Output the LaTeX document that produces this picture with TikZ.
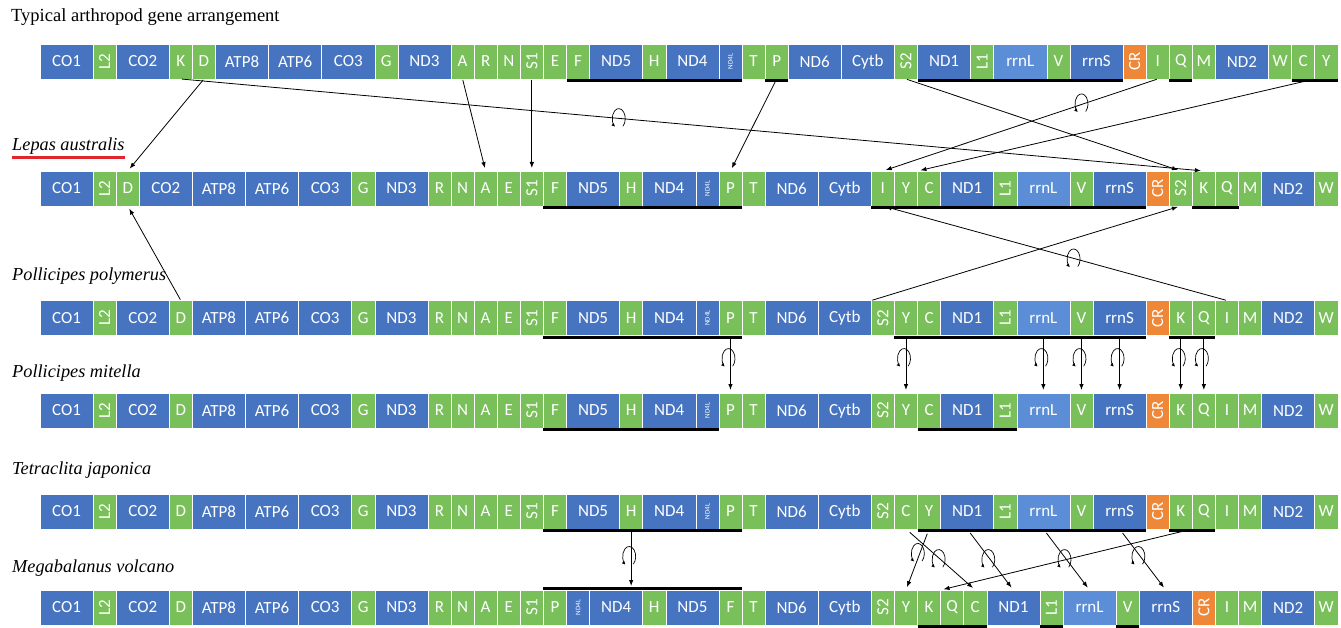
\documentclass[tikz,border=0pt]{standalone}
\usepackage{fontspec}
\setmainfont{Liberation Serif}
\newfontfamily\genefont{Carlito}
\usetikzlibrary{arrows.meta,positioning}
\definecolor{geneblue}{HTML}{4674C1}
\definecolor{generrn}{HTML}{5B8ED6}
\definecolor{genegreen}{HTML}{79C05A}
\definecolor{genecr}{HTML}{EE8838}
\definecolor{lepasred}{HTML}{E3262B}
\tikzset{
    gene/.style={draw=white, line width=0.6pt, inner sep=0pt, outer sep=0pt, minimum height=35pt, text=white, font=\genefont\fontsize{17}{17}\selectfont},
    geneb/.style={gene, fill=geneblue, minimum width=53.1pt},
    genel/.style={gene, fill=generrn, minimum width=53.1pt},
    genes/.style={gene, fill=genegreen, minimum width=23.1pt},
    gener/.style={genes},
    genec/.style={gene, fill=genecr, minimum width=23.1pt},
    genen/.style={gene, fill=geneblue, minimum width=23.1pt, font=\genefont\fontsize{7}{7}\selectfont},
    rowlab/.style={anchor=west, inner sep=0pt, font=\fontsize{18.3}{18.3}\selectfont\itshape},
    strand/.style={draw=black, line width=3pt},
    mv/.style={->, line width=0.8pt, shorten >=3pt, shorten <=1pt},
    invloop/.pic={\draw[-{Latex[length=3.5pt,width=3.5pt]}, line width=0.7pt] (2.2pt,-7.7pt) arc[start angle=-50, end angle=235, x radius=6.5pt, y radius=10pt];}
}
\newcommand{\genelab}[2]{\if r#1\rotatebox{90}{#2}\else\if c#1\rotatebox{90}{#2}\else\if n#1\rotatebox{90}{#2}\else#2\fi\fi\fi}
\newcommand{\generow}[3]{%
    \coordinate (#1-start) at (40,#2);
    \foreach \t/\k [remember=\t as \last (initially start)] in {#3} {%
        \edef\genenode{\noexpand\node[gene\k, right=0pt of #1-\last] (#1-\t) {\noexpand\genelab{\k}{\t}};}%
        \genenode
    }%
}
\newcommand{\strandbar}[3]{\draw[strand] ([yshift=-1.5pt]#1-#2.south west) -- ([yshift=-1.5pt]#1-#3.south east);}

\begin{document}
\begin{tikzpicture}[x=1pt, y=-1pt, >={Latex[length=6pt,width=4.5pt]}]
    \useasboundingbox (0,0) rectangle (1341,628);

    \node[rowlab, font=\fontsize{18.5}{18.5}\selectfont] (lab1) at (11,17) {Typical arthropod gene arrangement};
    \node[rowlab] (lab2) at (12,146) {Lepas australis};
    \node[rowlab] (lab3) at (12,276) {Pollicipes polymerus};
    \node[rowlab] (lab4) at (12,373) {Pollicipes mitella};
    \node[rowlab] (lab5) at (12,470) {Tetraclita japonica};
    \node[rowlab] (lab6) at (12,568) {Megabalanus volcano};
    \draw[lepasred, line width=3pt] ([yshift=-3.5pt]lab2.south west) -- ([yshift=-3.5pt]lab2.south east);

    \generow{r1}{61.5}{CO1/b,L2/r,CO2/b,K/s,D/s,ATP8/b,ATP6/b,CO3/b,G/s,ND3/b,A/s,R/s,N/s,S1/r,E/s,F/s,ND5/b,H/s,ND4/b,ND4L/n,T/s,P/s,ND6/b,Cytb/b,S2/r,ND1/b,L1/r,rrnL/l,V/s,rrnS/b,CR/c,I/s,Q/s,M/s,ND2/b,W/s,C/s,Y/s}
    \generow{r2}{188.5}{CO1/b,L2/r,D/s,CO2/b,ATP8/b,ATP6/b,CO3/b,G/s,ND3/b,R/s,N/s,A/s,E/s,S1/r,F/s,ND5/b,H/s,ND4/b,ND4L/n,P/s,T/s,ND6/b,Cytb/b,I/s,Y/s,C/s,ND1/b,L1/r,rrnL/l,V/s,rrnS/b,CR/c,S2/r,K/s,Q/s,M/s,ND2/b,W/s}
    \generow{r3}{318}{CO1/b,L2/r,CO2/b,D/s,ATP8/b,ATP6/b,CO3/b,G/s,ND3/b,R/s,N/s,A/s,E/s,S1/r,F/s,ND5/b,H/s,ND4/b,ND4L/n,P/s,T/s,ND6/b,Cytb/b,S2/r,Y/s,C/s,ND1/b,L1/r,rrnL/l,V/s,rrnS/b,CR/c,K/s,Q/s,I/s,M/s,ND2/b,W/s}
    \generow{r4}{410.5}{CO1/b,L2/r,CO2/b,D/s,ATP8/b,ATP6/b,CO3/b,G/s,ND3/b,R/s,N/s,A/s,E/s,S1/r,F/s,ND5/b,H/s,ND4/b,ND4L/n,P/s,T/s,ND6/b,Cytb/b,S2/r,Y/s,C/s,ND1/b,L1/r,rrnL/l,V/s,rrnS/b,CR/c,K/s,Q/s,I/s,M/s,ND2/b,W/s}
    \generow{r5}{511.5}{CO1/b,L2/r,CO2/b,D/s,ATP8/b,ATP6/b,CO3/b,G/s,ND3/b,R/s,N/s,A/s,E/s,S1/r,F/s,ND5/b,H/s,ND4/b,ND4L/n,P/s,T/s,ND6/b,Cytb/b,S2/r,C/s,Y/s,ND1/b,L1/r,rrnL/l,V/s,rrnS/b,CR/c,K/s,Q/s,I/s,M/s,ND2/b,W/s}
    \generow{r6}{607.5}{CO1/b,L2/r,CO2/b,D/s,ATP8/b,ATP6/b,CO3/b,G/s,ND3/b,R/s,N/s,A/s,E/s,S1/r,P/s,ND4L/n,ND4/b,H/s,ND5/b,F/s,T/s,ND6/b,Cytb/b,S2/r,Y/s,K/s,Q/s,C/s,ND1/b,L1/r,rrnL/l,V/s,rrnS/b,CR/c,I/s,M/s,ND2/b,W/s}

    \strandbar{r1}{F}{ND4L} \strandbar{r1}{P}{P} \strandbar{r1}{ND1}{rrnS} \strandbar{r1}{Q}{Q} \strandbar{r1}{C}{Y}
    \strandbar{r2}{F}{P} \strandbar{r2}{I}{rrnS} \strandbar{r2}{K}{Q}
    \strandbar{r3}{F}{P} \strandbar{r3}{Y}{rrnS} \strandbar{r3}{K}{Q}
    \strandbar{r4}{F}{ND4L} \strandbar{r4}{C}{L1}
    \strandbar{r5}{F}{P} \strandbar{r5}{Y}{rrnS} \strandbar{r5}{K}{Q}
    \strandbar{r6}{K}{C} \strandbar{r6}{L1}{L1} \strandbar{r6}{V}{V}
    \draw[strand] ([yshift=1.5pt]r6-P.north west) -- ([yshift=1.5pt]r6-F.north east);

    \draw[mv] (r1-D.south) -- (r2-D.north);
    \draw[mv] (r1-K.south) -- coordinate[pos=.43] (k12) (r2-K.north);
    \draw[mv] (r1-A.south) -- (r2-A.north);
    \draw[mv] (r1-S1.south) -- (r2-S1.north);
    \draw[mv] (r1-P.south) -- (r2-P.north);
    \draw[mv] (r1-S2.south) -- (r2-S2.north);
    \draw[mv] (r1-I.south) -- coordinate[pos=.27] (i12) (r2-I.north);
    \draw[mv] (r1-C.south east) -- (r2-Y.north east);
    \pic at (k12) {invloop};
    \pic at (i12) {invloop};

    \draw[mv] (r3-D.north) -- (r2-D.south);
    \draw[mv] (r3-S2.north west) -- (r2-S2.south);
    \draw[mv] (r3-I.north) -- coordinate[pos=.44] (i23) (r2-I.south);
    \pic at (i23) {invloop};

    \foreach \g in {P,Y,rrnL,V,rrnS,K,Q} {
        \draw[mv] (r3-\g.south) -- coordinate[pos=.4] (m34-\g) (r4-\g.north);
        \pic at (m34-\g) {invloop};
    }

    \draw[mv, shorten <=3pt, shorten >=4pt] (r5-H.south) -- coordinate[pos=.45] (h56) (r5-H.south |- r6-H.north);
    \pic at (h56) {invloop};
    \draw[mv, shorten <=5pt] (r5-Y.south) -- coordinate[pos=.4] (y56) (r6-Y.north);
    \draw[mv, shorten <=5pt] (r5-C.south) -- coordinate[pos=.5] (c56) (r6-C.north);
    \draw[mv, shorten <=5pt] (r5-ND1.south) -- coordinate[pos=.5] (n56) (r6-ND1.north);
    \draw[mv, shorten <=5pt] (r5-rrnL.south) -- coordinate[pos=.5] (l56) (r6-rrnL.north);
    \draw[mv, shorten <=5pt] (r5-rrnS.south) -- coordinate[pos=.45] (s56) (r6-rrnS.north);
    \draw[mv, shorten <=5pt] (r5-K.south east) -- (r6-K.north east);
    \pic at (y56) {invloop};
    \pic at (c56) {invloop};
    \pic at (n56) {invloop};
    \pic at (l56) {invloop};
    \pic at (s56) {invloop};
\end{tikzpicture}
\end{document}
